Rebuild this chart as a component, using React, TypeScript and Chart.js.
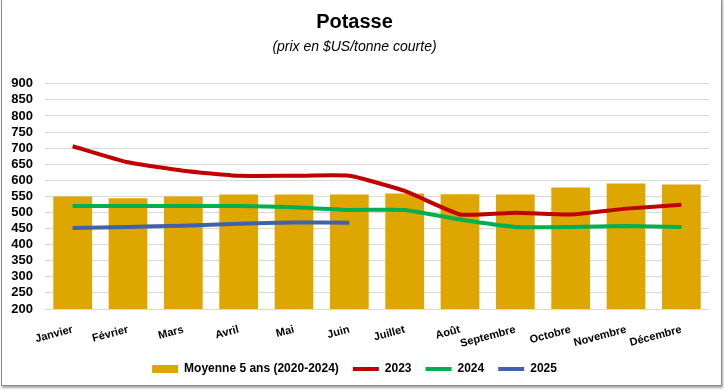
import React, { useEffect, useRef } from "react";
import { Chart, registerables } from "chart.js";

Chart.register(...registerables);

const months = ["Janvier", "Février", "Mars", "Avril", "Mai", "Juin", "Juillet", "Août", "Septembre", "Octobre", "Novembre", "Décembre"];
const avg5 = [550, 544, 550, 556, 556, 556, 559, 557, 556, 578, 590, 587];
const y2023 = [706, 656, 630, 614, 614, 614, 567, 494, 499, 494, 512, 524];
const y2024 = [520, 520, 520, 520, 516, 508, 508, 478, 455, 455, 458, 455];
const y2025 = [452, 455, 459, 465, 469, 468];

const FONT = "'Liberation Sans', Arial, sans-serif";

export default function App() {
  const ref = useRef<HTMLCanvasElement>(null);
  useEffect(() => {
    if (!ref.current) return;
    const chart = new Chart(ref.current, {
      type: "bar",
      data: {
        labels: months,
        datasets: [
          { type: "bar", label: "Moyenne 5 ans (2020-2024)", data: avg5, backgroundColor: "#DEA600", barPercentage: 0.7, categoryPercentage: 1, order: 2 },
          { type: "line", label: "2023", data: y2023, borderColor: "#C00000", backgroundColor: "#C00000", borderWidth: 4, pointRadius: 0, tension: 0.15, order: 1 },
          { type: "line", label: "2024", data: y2024, borderColor: "#00B050", backgroundColor: "#00B050", borderWidth: 4, pointRadius: 0, tension: 0.15, order: 1 },
          { type: "line", label: "2025", data: y2025, borderColor: "#3F62A8", backgroundColor: "#3F62A8", borderWidth: 4, pointRadius: 0, tension: 0.15, order: 1 },
        ],
      } as any,
      options: {
        responsive: false,
        animation: false,
        layout: { padding: { left: 0, right: 15, top: 0, bottom: 5 } },
        plugins: {
          title: { display: true, text: "Potasse", color: "#000", font: { family: FONT, size: 20, weight: "bold" }, padding: { top: 10, bottom: 5 } },
          subtitle: { display: true, text: "(prix en $US/tonne courte)", color: "#000", font: { family: FONT, size: 14, style: "italic" }, padding: { top: 0, bottom: 28 } },
          legend: {
            position: "bottom",
            labels: {
              color: "#000",
              font: { family: FONT, size: 12, weight: "bold" },
              usePointStyle: true,
              pointStyleWidth: 26,
              boxHeight: 8,
              padding: 14,
              sort: (a: any, b: any) => a.datasetIndex - b.datasetIndex,
              generateLabels: (c: any) => {
                const items = Chart.defaults.plugins.legend.labels.generateLabels(c);
                return items.map((it: any) => {
                  const ds = c.data.datasets[it.datasetIndex];
                  if (ds.type === "bar") {
                    return { ...it, pointStyle: "rect", lineWidth: 0, fillStyle: ds.backgroundColor, strokeStyle: ds.backgroundColor };
                  }
                  return { ...it, pointStyle: "line", lineWidth: 4, strokeStyle: ds.borderColor, fillStyle: ds.borderColor };
                });
              },
            },
          },
          tooltip: { enabled: false },
        },
        scales: {
          x: {
            grid: { display: false, drawTicks: false },
            border: { display: false },
            ticks: { color: "#000", font: { family: FONT, size: 11, weight: "bold" }, minRotation: 15, maxRotation: 15, padding: 14, autoSkip: false },
            afterFit: (s: any) => { s.height = 40; },
          },
          y: {
            min: 200,
            max: 900,
            grid: { color: "#D9D9D9", drawTicks: false, lineWidth: 1 },
            border: { display: false },
            ticks: { stepSize: 50, autoSkip: false, color: "#000", font: { family: FONT, size: 13, weight: "bold" }, padding: 12 },
            afterFit: (s: any) => { s.width = 45; },
          },
        },
      } as any,
    });
    return () => chart.destroy();
  }, []);
  return (
    <div style={{ position: "fixed", left: 0, top: 0, width: 724, height: 390, background: "#fff" }}>
      <canvas ref={ref} width={724} height={390} style={{ position: "absolute", left: 0, top: 0 }} />
      <div style={{ position: "absolute", left: 1, top: -2, width: 719, height: 386, border: "1px solid #8c8c8c", boxShadow: "1px 2px 2px rgba(0,0,0,0.35)", pointerEvents: "none" }} />
    </div>
  );
}
